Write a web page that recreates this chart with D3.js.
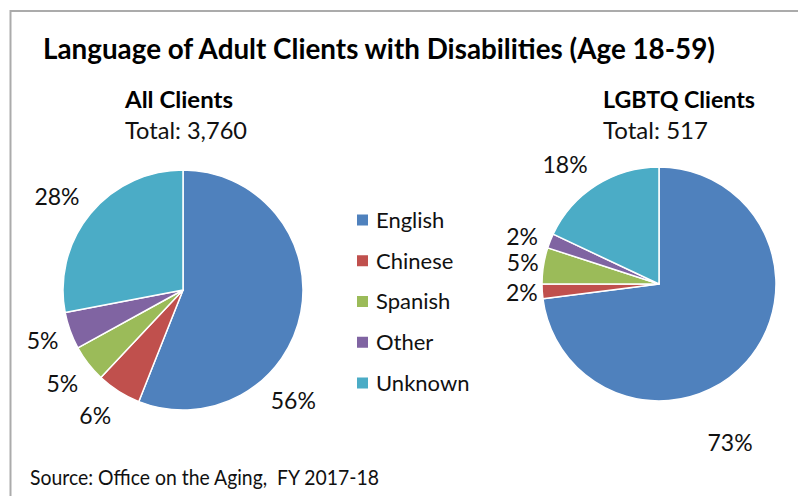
<!DOCTYPE html>
<html>
<head>
<meta charset="utf-8">
<script src="https://cdn.jsdelivr.net/npm/d3@7"></script>
<style>
  html, body { margin: 0; padding: 0; background: #fff; }
  svg { display: block; font-family: Lato, "Open Sans", sans-serif; }
</style>
</head>
<body>
<svg id="chart" width="798" height="496"></svg>
<script>
// Language categories shared by both pies
const languages = ["English", "Chinese", "Spanish", "Other", "Unknown"];
const languageColors = ["#4F81BD", "#C0504D", "#9BBB59", "#8064A2", "#4BACC6"];

// Percent of clients by language
const allClientsPct = [56, 6, 5, 5, 28];
const lgbtqClientsPct = [73, 2, 5, 2, 18];

// Panel headings
const allClientsTitle = "All Clients";
const allClientsTotal = "Total: 3,760";
const lgbtqClientsTitle = "LGBTQ Clients";
const lgbtqClientsTotal = "Total: 517";

const chartTitle = "Language of Adult Clients with Disabilities (Age 18-59)";
const sourceNote = "Source: Office on the Aging,\u00A0 FY 2017-18";

// Label placement around each pie: [angle in degrees clockwise from 12 o'clock
// (null = slice middle), distance from centre in px]
const allLabelPlacement = [[135, 156], [215, 153], [null, 152.6], [null, 149.3], [306.4, 156.6]];
const lgbtqLabelPlacement = [[155.9, 174], [null, 137.4], [null, 138], [289, 144.8], [321.7, 151.6]];

const svg = d3.select("#chart");

// Frame lines along the top and left edges
svg.append("path")
  .attr("d", "M10.5,496V11H798")
  .attr("fill", "none")
  .attr("stroke", "#ababab")
  .attr("stroke-width", 2);

// Title
svg.append("text")
  .attr("x", 43).attr("y", 59)
  .attr("font-size", 28).attr("font-weight", 700)
  .attr("fill", "#000")
  .attr("textLength", 672).attr("lengthAdjust", "spacingAndGlyphs")
  .text(chartTitle);

const color = d3.scaleOrdinal().domain(languages).range(languageColors);

function drawPie(values, cx, cy, r, placement) {
  const data = languages.map((lang, i) => ({ lang, value: values[i] }));
  const pie = d3.pie().value(d => d.value).sort(null);
  const arc = d3.arc().innerRadius(0).outerRadius(r);
  const arcs = pie(data);

  const g = svg.append("g").attr("transform", `translate(${cx},${cy})`);
  g.selectAll("path.slice")
    .data(arcs)
    .join("path")
    .attr("class", "slice")
    .attr("d", arc)
    .attr("fill", d => color(d.data.lang))
    .attr("stroke", "#fff")
    .attr("stroke-width", 1.5)
    .attr("stroke-linejoin", "round");

  g.selectAll("text.pct")
    .data(arcs)
    .join("text")
    .attr("class", "pct")
    .attr("transform", (d, i) => {
      const [deg, dist] = placement[i];
      const a = deg === null ? (d.startAngle + d.endAngle) / 2 : deg * Math.PI / 180;
      return `translate(${dist * Math.sin(a)},${-dist * Math.cos(a)})`;
    })
    .attr("text-anchor", "middle")
    .attr("dy", "0.36em")
    .attr("font-size", 23)
    .attr("fill", "#111")
    .text(d => d.data.value + "%");
}

drawPie(allClientsPct, 183, 290, 120, allLabelPlacement);
drawPie(lgbtqClientsPct, 659, 284, 117, lgbtqLabelPlacement);

// Panel headings
function heading(x, title, total, titleW, totalW) {
  svg.append("text")
    .attr("x", x).attr("y", 108)
    .attr("font-size", 22).attr("font-weight", 700).attr("fill", "#000")
    .attr("textLength", titleW).attr("lengthAdjust", "spacingAndGlyphs")
    .text(title);
  svg.append("text")
    .attr("x", x).attr("y", 139)
    .attr("font-size", 23).attr("fill", "#111")
    .attr("textLength", totalW).attr("lengthAdjust", "spacingAndGlyphs")
    .text(total);
}
heading(125, allClientsTitle, allClientsTotal, 108, 122);
heading(603, lgbtqClientsTitle, lgbtqClientsTotal, 152, 105);

// Legend
const legendY = d3.scalePoint().domain(languages).range([220, 383]);
const legend = svg.append("g");
const rows = legend.selectAll("g")
  .data(languages)
  .join("g")
  .attr("transform", d => `translate(357,${legendY(d)})`);
rows.append("rect")
  .attr("x", 0).attr("y", -5.5)
  .attr("width", 11).attr("height", 11)
  .attr("fill", d => color(d));
rows.append("text")
  .attr("x", 19).attr("dy", "0.36em")
  .attr("font-size", 22).attr("fill", "#111")
  .text(d => d);

// Source note
svg.append("text")
  .attr("x", 30).attr("y", 485)
  .attr("font-size", 22).attr("fill", "#111")
  .attr("textLength", 349).attr("lengthAdjust", "spacingAndGlyphs")
  .text(sourceNote);
</script>
</body>
</html>
